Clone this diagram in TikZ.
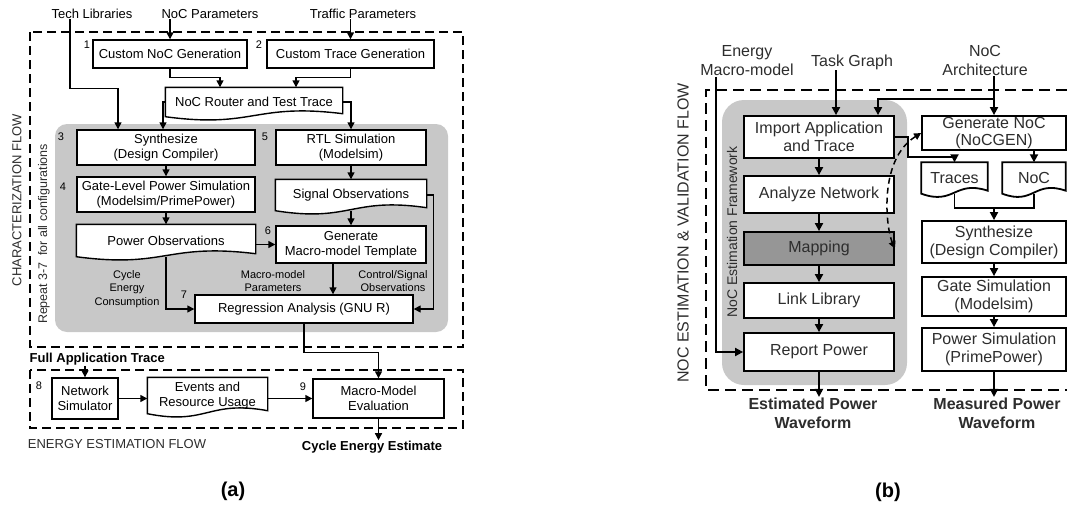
\documentclass[tikz,border=0pt]{standalone}
\usepackage{fontspec}
\setmainfont{Liberation Sans}
\usetikzlibrary{arrows.meta,calc,backgrounds}
\definecolor{panelgray}{RGB}{200,200,200}
\definecolor{mapgray}{RGB}{150,150,150}
\definecolor{inkgray}{RGB}{45,45,45}
\newcommand{\wavedoc}[2][]{%
	\begin{scope}[on background layer]
		\fill[white] (#2.north west) -- (#2.north east) -- ($(#2.south east)+(0pt,3pt)$) .. controls ($(#2.south west)!0.5!(#2.south east)+(0pt,14pt)$) and ($(#2.south west)!0.5!(#2.south east)+(0pt,-12pt)$) .. (#2.south west) -- cycle;
	\end{scope}
	\draw[#1] (#2.north west) -- (#2.north east) -- ($(#2.south east)+(0pt,3pt)$) .. controls ($(#2.south west)!0.5!(#2.south east)+(0pt,14pt)$) and ($(#2.south west)!0.5!(#2.south east)+(0pt,-12pt)$) .. (#2.south west) -- cycle;
}

\begin{document}
\begin{tikzpicture}[x=1pt,y=-1pt,line width=1.4pt,
	blk/.style={draw,fill=white,inner sep=0pt,align=center,font=\fontsize{13}{15}\selectfont},
	docn/.style={inner sep=0pt,align=center,font=\fontsize{13}{15}\selectfont},
	numlbl/.style={inner sep=0pt,font=\fontsize{11}{13}\selectfont},
	lbl/.style={inner sep=0pt,align=center,font=\fontsize{13}{15}\selectfont},
	smalllbl/.style={inner sep=0pt,align=center,font=\fontsize{11}{13.5}\selectfont},
	boldlbl/.style={inner sep=0pt,align=center,font=\bfseries\fontsize{13}{15}\selectfont},
	arr/.style={-{Triangle[length=7pt,width=7pt]}},
	flowframe/.style={dash pattern=on 9pt off 5pt,line width=1.8pt},
	bblk/.style={blk,line width=1.8pt,text=inkgray,font=\fontsize{16}{18}\selectfont},
	bdocn/.style={docn,text=inkgray,font=\fontsize{16}{18}\selectfont},
	blbl/.style={lbl,text=inkgray,font=\fontsize{16}{19}\selectfont},
	bboldlbl/.style={lbl,text=inkgray,font=\bfseries\fontsize{16}{19}\selectfont},
	barr/.style={line width=1.8pt,-{Triangle[length=8pt,width=8pt]}},
	bframe/.style={dash pattern=on 11pt off 6pt,line width=2pt},
	]
	\useasboundingbox (0,0) rectangle (1067,506);
	\begin{scope}[on background layer]
	\fill[panelgray,rounded corners=12pt] (55,124) rectangle (448,332);
	\fill[panelgray,rounded corners=22pt] (722,100) rectangle (907,385);
	\end{scope}
	\draw[flowframe] (30,32) rectangle (463,347);
	\draw[flowframe] (30,370) rectangle (463,428);
	\node[lbl] (techlib) at (92,14) {Tech Libraries};
	\node[lbl] (nocpar) at (210,14) {NoC Parameters};
	\node[lbl] (trafpar) at (363,14) {Traffic Parameters};
	\node[blk,minimum width=154pt,minimum height=28pt] (gen1) at (170,54) {Custom NoC Generation};
	\node[blk,minimum width=167pt,minimum height=28pt] (gen2) at (350.5,54) {Custom Trace Generation};
	\node[docn,minimum width=176pt,minimum height=28pt] (router) at (254,102) {NoC Router and Test Trace};
	\wavedoc{router}
	\node[blk,minimum width=178pt,minimum height=35pt] (syn) at (166,147.5) {Synthesize\\(Design Compiler)};
	\node[blk,minimum width=178pt,minimum height=35pt] (gls) at (166,194.5) {Gate-Level Power Simulation\\(Modelsim/PrimePower)};
	\node[docn,minimum width=178pt,minimum height=31pt] (pwr) at (166,240.5) {Power Observations};
	\wavedoc{pwr}
	\node[blk,minimum width=150pt,minimum height=35pt] (rtl) at (351,147.5) {RTL Simulation\\(Modelsim)};
	\node[docn,minimum width=150pt,minimum height=30pt] (sig) at (351,195) {Signal Observations};
	\wavedoc{sig}
	\node[blk,minimum width=150pt,minimum height=37pt] (gen6) at (351,244.5) {Generate\\Macro-model Template};
	\node[blk,minimum width=218pt,minimum height=28pt] (reg) at (304,309) {Regression Analysis (GNU R)};
	\node[numlbl] (s1) at (87,45) {1};
	\node[numlbl] (s2) at (259,45) {2};
	\node[numlbl] (s3) at (61,137) {3};
	\node[numlbl] (s4) at (63,187) {4};
	\node[numlbl] (s5) at (265,137) {5};
	\node[numlbl] (s6) at (268,231) {6};
	\node[numlbl] (s7) at (184,295) {7};
	\node[smalllbl] (cyc) at (127,289) {Cycle\\Energy\\Consumption};
	\node[smalllbl] (mmpar) at (273,281) {Macro-model\\Parameters};
	\node[smalllbl] (ctlsig) at (393,281) {Control/Signal\\Observations};
	\node[lbl,rotate=90,text=inkgray] (charflow) at (17,200) {CHARACTERIZATION FLOW};
	\node[lbl,rotate=90,text=inkgray,font=\fontsize{12.5}{14}\selectfont] (repeat) at (44,234) {Repeat 3-7\enspace for all configurations};
	\node[boldlbl,anchor=west] (fat) at (29,359) {Full Application Trace};
	\node[blk,minimum width=66pt,minimum height=41pt] (net) at (85,398.5) {Network\\Simulator};
	\node[docn,minimum width=119pt,minimum height=35pt] (evt) at (207.5,395.5) {Events and\\Resource Usage};
	\wavedoc{evt}
	\node[blk,minimum width=131pt,minimum height=39pt] (eval) at (378.5,398.5) {Macro-Model\\Evaluation};
	\node[numlbl] (s8) at (39,386) {8};
	\node[numlbl] (s9) at (303,387) {9};
	\node[boldlbl] (cee) at (372,447) {Cycle Energy Estimate};
	\node[lbl,text=inkgray] (eef) at (117,444) {ENERGY ESTIMATION FLOW};
	\node[font=\bfseries\fontsize{20}{24}\selectfont] (capa) at (233,491) {(a)};
	\draw[arr] (gen1.north |- nocpar.south) -- (gen1.north);
	\draw[arr] (gen2.north |- trafpar.south) -- (gen2.north);
	\draw[arr] ([xshift=-22pt]techlib.south) -- ++(0,69) -| ([xshift=-48pt]syn.north);
	\draw[arr] (gen1.south) -- ++(0,9) -| ([xshift=-34pt]router.north);
	\draw[arr] (gen2.south) -- ++(0,9) -| ([xshift=42pt]router.north);
	\draw[arr] (router.west) -| ([xshift=-3pt]syn.north);
	\draw[arr] (router.east) -| (rtl.north);
	\draw[arr] (syn) -- (gls);
	\draw[arr] (gls) -- (pwr);
	\draw[arr] (rtl) -- (sig);
	\draw[arr] (sig) -- (gen6);
	\draw[arr] (pwr.east |- gen6.west) -- (gen6.west);
	\draw[arr] (pwr.south) |- (reg.west);
	\draw[arr] ([xshift=-18pt]gen6.south) -- ([xshift=-18pt]gen6.south |- reg.north);
	\draw[arr] (sig.east) -- ++(7,0) |- (reg.east);
	\draw[arr] (fat.south -| net.north) -- (net.north);
	\draw[arr] (net.east) -- (net.east -| evt.west);
	\draw[arr] (evt.east |- eval.west) -- (eval.west);
	\draw[arr] (reg.south) -- ++(0,29) -| (eval.north);
	\draw[arr] (eval.south) -- (eval.south |- cee.north);
	\draw[bframe] (1067,90) -- (706,90) -- (706,390) -- (1067,390);
	\node[blbl,rotate=90] (nevflow) at (683,233) {NOC ESTIMATION \& VALIDATION FLOW};
	\node[blbl,rotate=90,font=\fontsize{14}{16}\selectfont] (framework) at (732,232) {NoC Estimation Framework};
	\node[blbl] (emm) at (747,61) {Energy\\Macro-model};
	\node[blbl] (tg) at (852,62) {Task Graph};
	\node[blbl] (nocarch) at (985,60) {NoC\\Architecture};
	\node[bblk,minimum width=150pt,minimum height=42pt] (imp) at (819,137) {Import Application\\and Trace};
	\node[bblk,minimum width=150pt,minimum height=37pt] (ana) at (819,194.5) {Analyze Network};
	\node[bblk,minimum width=150pt,minimum height=33pt,fill=mapgray] (map) at (819,248.5) {Mapping};
	\node[bblk,minimum width=150pt,minimum height=35pt] (lnk) at (819,300.5) {Link Library};
	\node[bblk,minimum width=150pt,minimum height=38pt] (rep) at (819,352) {Report Power};
	\node[bboldlbl] (est) at (813,413) {Estimated Power\\Waveform};
	\node[bblk,minimum width=144pt,minimum height=34pt,font=\fontsize{16}{17}\selectfont] (gen) at (994,133) {Generate NoC\\(NoCGEN)};
	\node[bdocn,minimum width=65pt,minimum height=30pt] (trc) at (954.5,178) {Traces};
	\wavedoc[line width=1.8pt]{trc}
	\node[bdocn,minimum width=62pt,minimum height=30pt] (noc) at (1034,178) {NoC};
	\wavedoc[line width=1.8pt]{noc}
	\node[bblk,minimum width=144pt,minimum height=42pt] (syn2) at (994,242) {Synthesize\\(Design Compiler)};
	\node[bblk,minimum width=144pt,minimum height=39pt] (gsim) at (994,296.5) {Gate Simulation\\(Modelsim)};
	\node[bblk,minimum width=144pt,minimum height=43pt] (psim) at (994,349.5) {Power Simulation\\(PrimePower)};
	\node[bboldlbl] (meas) at (997,413) {Measured Power\\Waveform};
	\node[font=\bfseries\fontsize{20}{24}\selectfont] (capb) at (888,492) {(b)};
	\draw[barr] ([xshift=-31pt]emm.south) |- (rep.west);
	\draw[barr] ([xshift=17pt]imp.north |- tg.south) -- ([xshift=17pt]imp.north);
	\draw[barr] (gen.north |- nocarch.south) -- (gen.north);
	\draw[barr] ([yshift=16pt]gen.north) -| ([xshift=59pt]imp.north);
	\draw[barr] (imp) -- (ana);
	\draw[barr] (ana) -- (map);
	\draw[barr] (map) -- (lnk);
	\draw[barr] (lnk) -- (rep);
	\draw[barr] (rep.south) -- (rep.south |- est.north);
	\draw[barr] (imp.east) -- ++(13,0) -- ++(0,20) -| (trc.north);
	\draw[barr] (noc.north |- gen.south) -- (noc.north);
	\draw[barr] (trc.south) |- ([yshift=12pt]syn2.north) -- (syn2.north);
	\draw[line width=1.8pt] (noc.south) |- ([yshift=12pt]syn2.north);
	\draw[barr] (syn2) -- (gsim);
	\draw[barr] (gsim) -- (psim);
	\draw[barr] (psim.south) -- (psim.south |- meas.north);
	\draw[line width=1.5pt,dash pattern=on 6pt off 4pt,{Triangle[length=7pt,width=7pt]}-{Triangle[length=7pt,width=7pt]}] (gen.west) .. controls (878,160) and (886,228) .. (map.east);
\end{tikzpicture}
\end{document}
